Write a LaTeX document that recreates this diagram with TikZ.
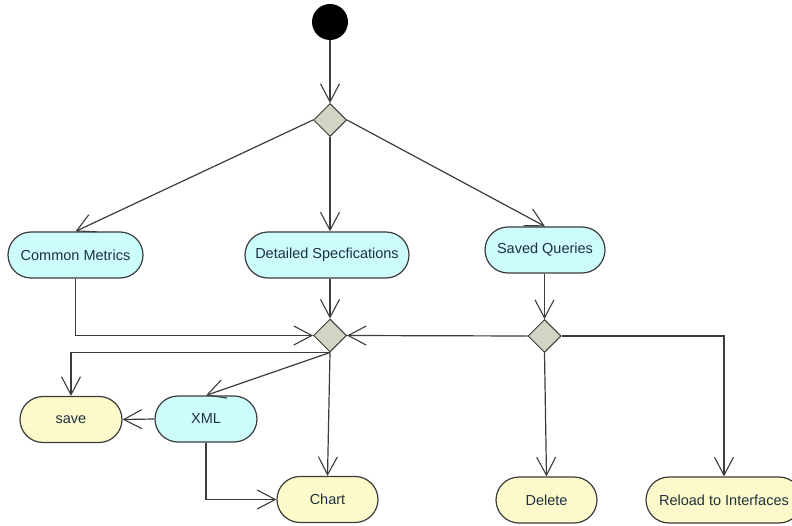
\documentclass[tikz,border=0pt]{standalone}
\usepackage{fontspec}
\setmainfont{Liberation Sans}
\usetikzlibrary{arrows.meta,shapes.misc,shapes.geometric}
\definecolor{actcyan}{HTML}{CCFCFC}
\definecolor{actyellow}{HTML}{FCFACA}
\definecolor{decgray}{HTML}{D4D4C4}
\definecolor{edgegray}{HTML}{3C3C3C}
\definecolor{labeltext}{HTML}{1F3140}
\begin{document}
\begin{tikzpicture}[x=1pt,y=-1pt,
  activity/.style={rounded rectangle, draw=edgegray, line width=1.2pt,
    minimum height=46pt, inner sep=0pt, text=labeltext,
    font=\fontsize{14.5}{16}\selectfont},
  cyanact/.style={activity, fill=actcyan},
  yellowact/.style={activity, fill=actyellow},
  decision/.style={diamond, draw=edgegray, fill=decgray, line width=1pt,
    minimum width=33pt, minimum height=33pt, inner sep=0pt, aspect=1},
  flow/.style={draw=edgegray, line width=1.2pt,
    -{Straight Barb[length=18pt,width=19pt,line width=1.1pt]}},
  link/.style={draw=edgegray, line width=1.2pt}]
\clip (0,0) rectangle (792,526);
\fill[white] (0,0) rectangle (792,526);

% start and decision points
\node[circle, fill=black, minimum size=36pt, inner sep=0pt] (start) at (330,22) {};
\node[decision] (d1) at (330,120) {};
\node[decision] (d2) at (330,335.5) {};
\node[decision] (d3) at (544.5,336) {};

% activities
\node[cyanact, minimum width=135pt] (cm) at (75.5,255) {Common Metrics};
\node[cyanact, minimum width=164pt] (ds) at (327,255) {Detailed Specfications};
\node[cyanact, minimum width=120pt] (sq) at (545,250) {Saved Queries};
\node[yellowact, minimum width=102pt] (save) at (71,419.5) {save};
\node[cyanact, minimum width=102pt] (xml) at (206,419) {XML};
\node[yellowact, minimum width=101pt] (chart) at (327.5,499.5) {Chart};
\node[yellowact, minimum width=101pt] (delete) at (546.5,500) {Delete};
\node[yellowact, minimum width=156pt] (reload) at (724,500) {Reload to Interfaces};

% control flow
\draw[flow] (start) -- (d1.north);
\draw[flow] (d1.west) -- (cm.north);
\draw[flow] (d1.south) -- (d1.south |- ds.north);
\draw[flow] (d1.east) -- (sq.north);
\draw[flow] (cm.south) |- (d2.west);
\draw[flow] (d2.north |- ds.south) -- (d2.north);
\draw[flow] (sq.south -| d3.north) -- (d3.north);
\draw[flow] (d3.west) -- (d2.east);
\draw[flow] (d2.south) -| (save.north);
\draw[flow] (d2.south) -- (xml.north);
\draw[flow] (d2.south) -- (chart.north);
\draw[flow] (xml.west) -- (save.east);
\draw[flow] (xml.south) |- (chart.west);
\draw[flow] (d3.south) -- (delete.north);
\draw[flow] (d3.east) -| (reload.north);
\end{tikzpicture}
\end{document}
